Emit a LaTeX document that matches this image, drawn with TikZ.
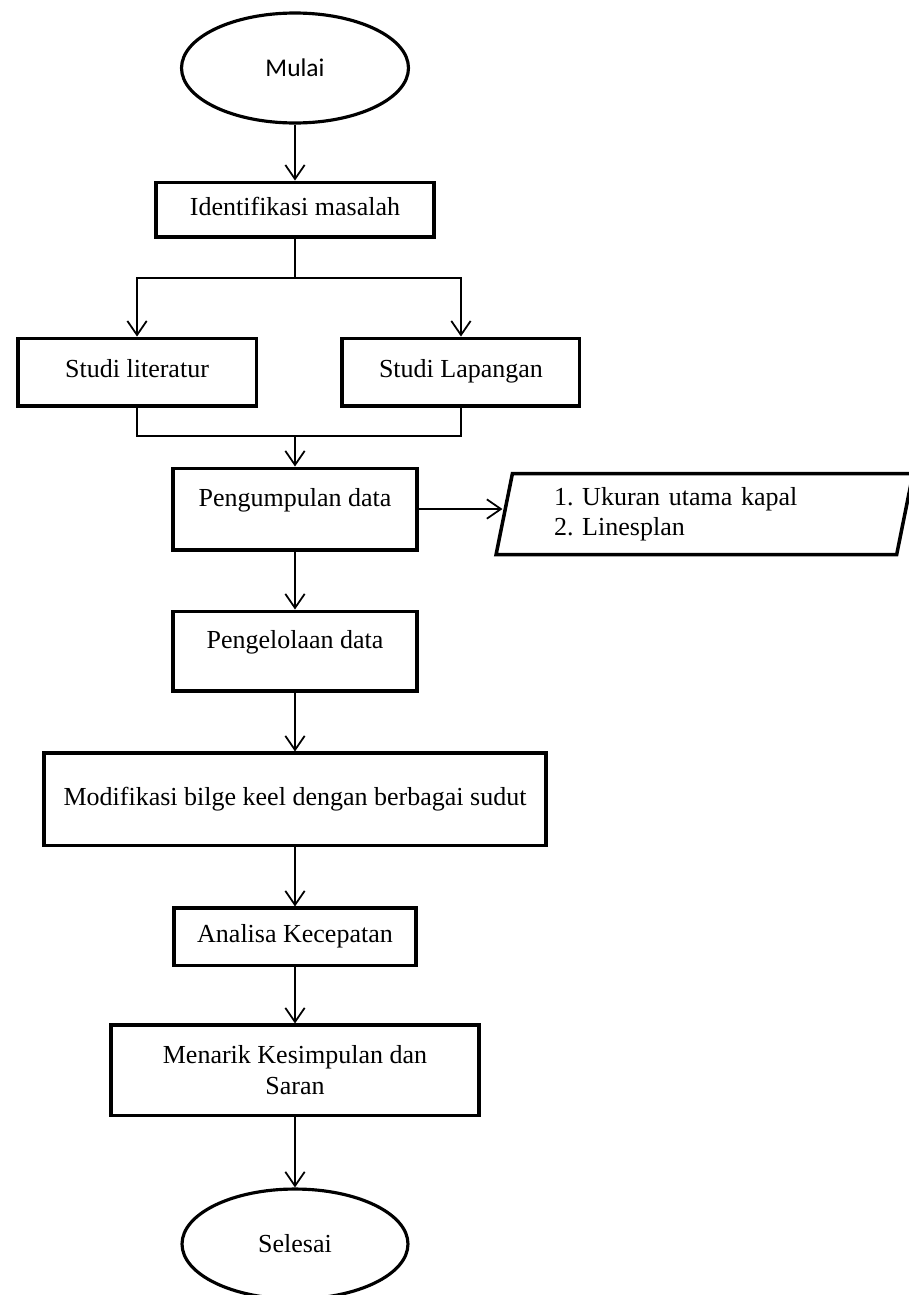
\documentclass[tikz,border=0pt]{standalone}
\usepackage{fontspec}
\setmainfont{Liberation Serif}
\newfontfamily\calibri{Carlito}
\usetikzlibrary{positioning, arrows.meta, shapes.geometric}
\frenchspacing
\tikzset{
  proses/.style={
    draw, rectangle, line width=2pt, minimum width=4.89cm, minimum height=1.2cm,
    text height=10pt, text depth=3.5pt,
    font=\fontsize{14.8}{17.5}\selectfont
  },
  terminal/.style={
    draw, ellipse, line width=1.8pt, minimum width=4.54cm, minimum height=2.2cm,
    font=\fontsize{14.8}{17.5}\selectfont
  },
  masukan/.style={
    draw, trapezium, trapezium left angle=76, trapezium right angle=104,
    trapezium stretches body, minimum width=8.34cm, minimum height=1.62cm,
    line width=2pt, text width=6.02cm, align=left,
    font=\fontsize{14.8}{17.2}\selectfont
  },
  naik/.style={text depth=13pt},
  >={Straight Barb[length=8pt,width=11pt]}, node distance=1.17cm
}

\begin{document}
\begin{tikzpicture}[x=0.02cm, y=-0.02cm, line width=1pt]
    \useasboundingbox (0,0) rectangle (909,1295);

    \node[terminal, font=\calibri\fontsize{14.5}{17.5}\selectfont] (mulai) at (295,68) {Mulai};
    \node[proses, below=1.12cm of mulai, minimum width=5.57cm, minimum height=1.09cm] (ident) {Identifikasi masalah};
    \node[proses, below=1.96cm of ident, xshift=-3.16cm, minimum width=4.77cm, minimum height=1.35cm] (studlit) {Studi literatur};
    \node[proses, below=1.96cm of ident, xshift=3.32cm, minimum width=4.75cm, minimum height=1.35cm] (studlap) {Studi Lapangan};
    \node[proses, naik, below=4.56cm of ident, minimum height=1.63cm] (kumpul) {Pengumpulan data};
    \node[masukan, right=1.67cm of kumpul, yshift=-0.1cm] (data) {1. Ukuran utama kapal\\2. Linesplan};
    \node[proses, naik, below=1.16cm of kumpul, minimum height=1.59cm] (olah) {Pengelolaan data};
    \node[proses, below=1.18cm of olah, minimum width=10.05cm, minimum height=1.85cm] (modif) {Modifikasi bilge keel dengan berbagai sudut};
    \node[proses, below=1.18cm of modif, minimum width=4.85cm, minimum height=1.15cm] (analisa) {Analisa Kecepatan};
    \node[proses, below=1.12cm of analisa, minimum width=7.37cm, minimum height=1.81cm,
          text height={}, text depth={}, align=center] (menarik) {Menarik Kesimpulan dan\\Saran};
    \node[terminal, below=1.4cm of menarik, minimum width=4.52cm] (selesai) {Selesai};

    \coordinate (split) at (295,278);
    \coordinate (merge) at (295,436);

    % cabang ke dua studi
    \draw (ident) -- (split);
    \draw[<->] (studlit) |- (split) -| (studlap);
    \draw (studlit) |- (merge) -| (studlap);
    \draw[->] (merge) -- (kumpul);

    \path[->]
      (mulai)    edge (ident)
      (kumpul.east) edge (kumpul.east -| data.west)
      (kumpul)   edge (olah)
      (olah)     edge (modif)
      (modif)    edge (analisa)
      (analisa)  edge (menarik)
      (menarik)  edge (selesai);
\end{tikzpicture}
\end{document}
